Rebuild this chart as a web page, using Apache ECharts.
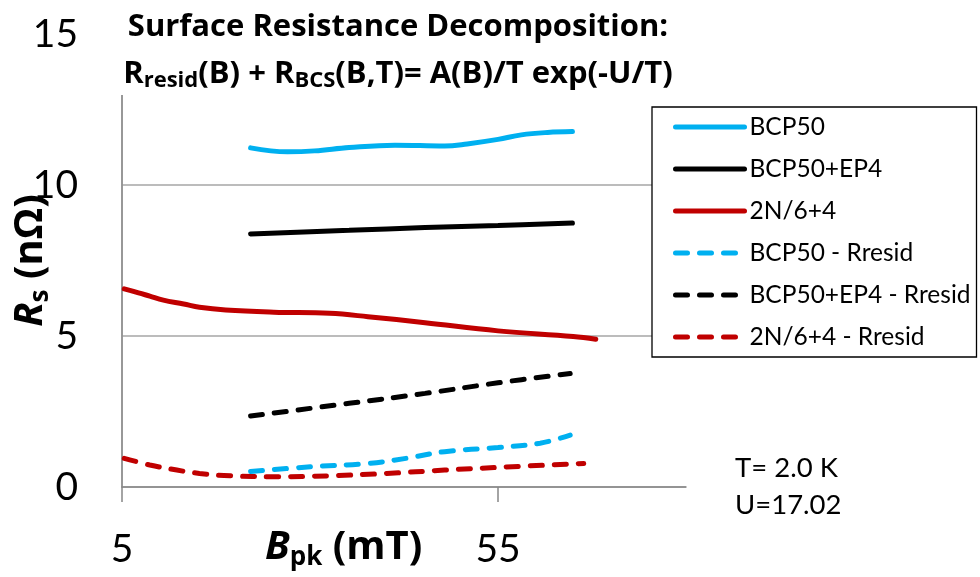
<!DOCTYPE html>
<html>
<head>
<meta charset="utf-8">
<script src="https://cdn.jsdelivr.net/npm/echarts@6/dist/echarts.min.js"></script>
<style>
  html, body { margin: 0; padding: 0; background: #fff; }
  #main { width: 980px; height: 577px; }
</style>
</head>
<body>
<div id="main"></div>
<script>
// values: B_pk (mT) and Rs (nOhm)
var seriesNames = ['BCP50', 'BCP50+EP4', '2N/6+4', 'BCP50 - Rresid', 'BCP50+EP4 - Rresid', '2N/6+4 - Rresid'];

var bcp50X = [22.1, 27.0, 30.6, 35.2, 41.3, 47.9, 50.9, 55.0, 58.1, 61.6, 64.9];
var bcp50Y = [11.23, 11.10, 11.13, 11.24, 11.32, 11.29, 11.36, 11.51, 11.66, 11.74, 11.77];

var ep4X = [22.1, 35.2, 45.3, 55.0, 64.9];
var ep4Y = [8.38, 8.50, 8.59, 8.66, 8.74];

var n2X = [5.3, 7.2, 8.7, 10.5, 13.2, 15.3, 18.8, 25.2, 32.6, 37.7, 45.3, 55.0, 65.0, 68.0];
var n2Y = [6.56, 6.43, 6.32, 6.19, 6.06, 5.95, 5.86, 5.79, 5.75, 5.64, 5.44, 5.17, 4.98, 4.89];

var bcp50rX = [22.1, 30.1, 37.7, 42.8, 47.9, 55.0, 60.6, 64.6];
var bcp50rY = [0.51, 0.67, 0.78, 0.95, 1.17, 1.31, 1.45, 1.72];

var ep4rX = [22.1, 35.2, 45.3, 55.0, 64.6];
var ep4rY = [2.35, 2.77, 3.10, 3.45, 3.76];

var n2rX = [5.3, 8.7, 12.3, 15.3, 19.4, 25.2, 32.6, 40.2, 47.9, 55.0, 66.4];
var n2rY = [0.95, 0.73, 0.56, 0.45, 0.37, 0.34, 0.37, 0.45, 0.56, 0.65, 0.78];

var xLabelValues = [5, 55];

var FONT = 'Lato';
var BOLD = 'Open Sans';

function pairs(xs, ys) {
    return xs.map(function (x, i) { return [x, ys[i]]; });
}

function makeLine(name, xs, ys, color, dashed) {
    return {
        name: name,
        type: 'line',
        data: pairs(xs, ys),
        smooth: 0.4,
        symbol: 'none',
        showSymbol: false,
        silent: true,
        lineStyle: {
            color: color,
            width: 5,
            type: dashed ? [12, 12] : 'solid',
            cap: 'round'
        },
        itemStyle: { color: color },
        z: 3
    };
}

var chart = echarts.init(document.getElementById('main'));

var nameRich = {
    i: { fontFamily: BOLD, fontWeight: 'bold', fontStyle: 'italic', fontSize: 40, lineHeight: 46, color: '#000' },
    s: { fontFamily: BOLD, fontWeight: 'bold', fontSize: 26, lineHeight: 24, verticalAlign: 'bottom', color: '#000' },
    b: { fontFamily: BOLD, fontWeight: 'bold', fontSize: 40, lineHeight: 46, color: '#000' }
};

var option = {
    animation: false,
    backgroundColor: '#fff',
    title: [{
        text: 'Surface Resistance Decomposition:',
        left: 398,
        top: 9,
        textAlign: 'center',
        padding: 0,
        textStyle: { fontFamily: BOLD, fontWeight: 'bold', fontSize: 31, lineHeight: 36, color: '#000' },
        z: 20
    }, {
        text: '{b|R}{s|resid}{b|(B) + R}{s|BCS}{b|(B,T)= A(B)/T exp(-U/T)}',
        left: 398,
        top: 56,
        textAlign: 'center',
        padding: 0,
        textStyle: {
            rich: {
                b: { fontFamily: BOLD, fontWeight: 'bold', fontSize: 31, lineHeight: 36, color: '#000' },
                s: { fontFamily: BOLD, fontWeight: 'bold', fontSize: 22, lineHeight: 18, verticalAlign: 'bottom', color: '#000' }
            }
        },
        z: 20
    }],
    graphic: [{
        // white backing behind the title, hides grid lines like the original
        type: 'rect',
        shape: { x: 110, y: 0, width: 600, height: 95 },
        style: { fill: '#fff' },
        z: 10
    }, {
        type: 'text',
        x: 265,
        y: 548,
        style: {
            text: '{i|B}{s|pk}{b| (mT)}',
            verticalAlign: 'middle',
            align: 'left',
            rich: {
                i: { fontFamily: BOLD, fontWeight: 'bold', fontStyle: 'italic', fontSize: 40, lineHeight: 46, fill: '#000' },
                s: { fontFamily: BOLD, fontWeight: 'bold', fontSize: 26, lineHeight: 24, verticalAlign: 'bottom', fill: '#000' },
                b: { fontFamily: BOLD, fontWeight: 'bold', fontSize: 40, lineHeight: 46, fill: '#000' }
            }
        },
        z: 20
    }, {
        type: 'text',
        x: 735,
        y: 468,
        style: { text: 'T= 2.0 K', font: '27.5px Lato', fill: '#000', verticalAlign: 'middle' },
        z: 20
    }, {
        type: 'text',
        x: 735,
        y: 505,
        style: { text: 'U=17.02', font: '27.5px Lato', fill: '#000', verticalAlign: 'middle' },
        z: 20
    }],
    legend: {
        data: seriesNames,
        orient: 'vertical',
        left: 652,
        top: 107,
        padding: [7, 6, 7, 21],
        itemWidth: 69,
        itemHeight: 14,
        itemGap: 16,
        borderColor: '#000',
        borderWidth: 1.3,
        backgroundColor: '#fff',
        selectedMode: false,
        itemStyle: { opacity: 0 },
        lineStyle: { width: 5 },
        textStyle: { fontFamily: FONT, fontSize: 24.5, lineHeight: 26, color: '#000' },
        z: 30
    },
    grid: {
        left: 122,
        right: 294,
        top: 34,
        bottom: 90,
        containLabel: false,
        outerBoundsMode: 'none'
    },
    xAxis: {
        type: 'value',
        min: 5,
        max: 80,
        interval: 10,
        axisLine: { show: true, lineStyle: { color: '#868686', width: 1.5 } },
        axisTick: { show: true, customValues: xLabelValues, length: 15, lineStyle: { color: '#868686', width: 1.5 } },
        axisLabel: {
            customValues: xLabelValues,
            fontFamily: FONT,
            fontSize: 39,
            color: '#000',
            margin: 43
        },
        splitLine: { show: true, showMaxLine: false, lineStyle: { color: '#bfbfbf', width: 1.5 } }
    },
    yAxis: {
        type: 'value',
        min: 0,
        max: 15,
        interval: 5,
        name: '{i|R}{s|s}{b| (n\u03A9)}',
        nameLocation: 'middle',
        nameGap: 68,
        nameMoveOverlap: false,
        nameTextStyle: { rich: nameRich },
        axisLine: { show: true, lineStyle: { color: '#868686', width: 1.5 } },
        axisTick: { show: false },
        axisLabel: { fontFamily: FONT, fontSize: 39, color: '#000', margin: 44 },
        splitLine: { show: true, lineStyle: { color: '#a6a6a6', width: 1.5 } }
    },
    series: [
        makeLine(seriesNames[0], bcp50X, bcp50Y, '#00b0f0', false),
        makeLine(seriesNames[1], ep4X, ep4Y, '#000000', false),
        makeLine(seriesNames[2], n2X, n2Y, '#c00000', false),
        makeLine(seriesNames[3], bcp50rX, bcp50rY, '#00b0f0', true),
        makeLine(seriesNames[4], ep4rX, ep4rY, '#000000', true),
        makeLine(seriesNames[5], n2rX, n2rY, '#c00000', true)
    ]
};

chart.setOption(option);

window.onresize = function () {
    chart.resize();
};
</script>
</body>
</html>
